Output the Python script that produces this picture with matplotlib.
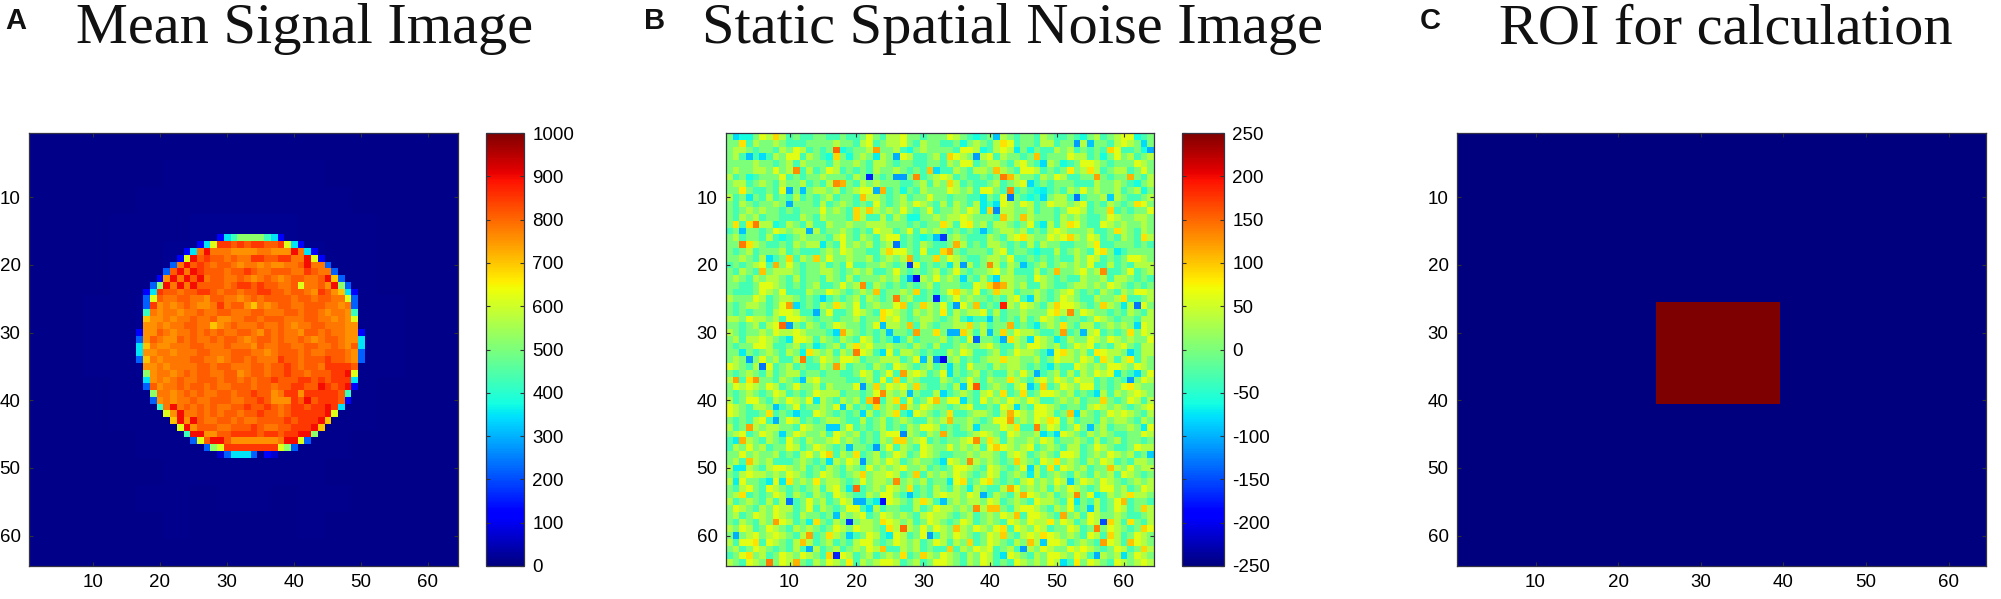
import numpy as np
import matplotlib
matplotlib.use("Agg")
import matplotlib.pyplot as plt

WIDTH = 2001
HEIGHT = 599

titles = ["Mean Signal Image", "Static Spatial Noise Image", "ROI for calculation"]
panel_letters = ["A", "B", "C"]
axis_ticks = [10, 20, 30, 40, 50, 60]
signal_ticks = [0, 100, 200, 300, 400, 500, 600, 700, 800, 900, 1000]
noise_ticks = [-250, -200, -150, -100, -50, 0, 50, 100, 150, 200, 250]

# panel A levels
signal_levels = {".": 18, "0": 70, "1": 120, "2": 220, "3": 350, "4": 420, "5": 520, "6": 620,
                 "7": 700, "a": 755, "o": 785, "p": 810, "r": 850, "R": 895, "D": 950}

# faint glow of panel A around the disc, one value per 4x4 block
signal_background = [
    [10, 10, 10, 10, 10, 10, 10, 10, 10, 10, 10, 10, 10, 10, 10, 10],
    [10, 10, 10, 10, 10, 13, 13, 13, 13, 13, 13, 10, 10, 10, 10, 10],
    [10, 10, 10, 10, 13, 13, 15, 15, 15, 15, 13, 13, 10, 10, 10, 10],
    [10, 10, 10, 13, 13, 15, 17, 17, 17, 17, 15, 13, 13, 10, 10, 10],
    [10, 10, 10, 13, 15, 17, 17, 17, 17, 17, 17, 15, 13, 10, 10, 10],
    [10, 10, 10, 13, 15, 17, 17, 17, 17, 17, 17, 15, 13, 10, 10, 10],
    [10, 10, 13, 15, 17, 17, 17, 17, 17, 17, 17, 17, 15, 13, 10, 10],
    [10, 10, 13, 15, 17, 17, 17, 17, 17, 17, 17, 17, 15, 13, 10, 10],
    [10, 10, 13, 15, 17, 17, 17, 17, 17, 17, 17, 17, 15, 13, 10, 10],
    [10, 10, 10, 13, 15, 17, 17, 17, 17, 17, 17, 15, 13, 10, 10, 10],
    [10, 10, 10, 13, 13, 15, 17, 17, 17, 17, 15, 13, 13, 10, 10, 10],
    [10, 10, 10, 10, 13, 13, 15, 15, 15, 15, 13, 13, 10, 10, 10, 10],
    [10, 10, 10, 10, 10, 13, 13, 13, 13, 13, 13, 10, 10, 10, 10, 10],
    [10, 10, 10, 10, 13, 13, 10, 13, 13, 10, 13, 13, 10, 10, 10, 10],
    [10, 10, 10, 10, 10, 13, 10, 10, 10, 10, 13, 10, 10, 10, 10, 10],
    [10, 10, 10, 10, 10, 10, 10, 10, 10, 10, 10, 10, 10, 10, 10, 10],
]

# left and right rim of the disc: row -> (first column, levels)
signal_left_rim = {
    16: (29, "1345555431"), 17: (26, "136"), 18: (24, "13oR"), 19: (23, "16R"), 20: (22, "2o"),
    21: (21, "2p"), 22: (20, "1a"), 23: (19, "25"), 24: (18, "13"), 25: (18, "26"), 26: (18, "2"),
    27: (18, "4"), 28: (18, "7"), 29: (18, "a"), 30: (17, "1a"), 31: (17, "2a"), 32: (17, "37"),
    33: (17, "3a"), 34: (17, "27"), 35: (18, "a"), 36: (18, "5"), 37: (18, "3"), 38: (18, "2"),
    39: (19, "5"), 40: (19, "2"), 41: (20, "4"), 42: (21, "6"), 43: (22, "7"), 44: (23, "6"),
    45: (24, "4"), 46: (25, "26"), 47: (27, "256"), 48: (29, "023332 10"),
}
signal_right_rim = {
    17: (39, "631"), 18: (40, "Ro31"), 19: (42, "R61"), 20: (44, "o2"), 21: (45, "o2"), 22: (46, "72"),
    23: (47, "52"), 24: (48, "31"), 25: (48, "62"), 26: (49, "2"), 27: (49, "4"), 28: (49, "6"),
    29: (49, "a"), 30: (49, "a1"), 31: (49, "a3"), 32: (49, "p3"), 33: (49, "a2"), 34: (49, "a2"),
    35: (49, "p"), 36: (49, "6"), 37: (49, "3"), 38: (49, "1"), 39: (48, "4"), 40: (48, "1"),
    41: (47, "3"), 42: (46, "6"), 43: (45, "7"), 44: (44, "7"), 45: (43, "5"), 46: (41, "62"),
    47: (38, "652"),
}

# inside of the disc, columns 18 to 49, rows 17 to 47
signal_inside = [
    "ppppppppppprrprprrpprrrprrpppppp",
    "oooooooooooooaaaaooaaaaaoppppppp",
    "ppppppppprppopoorrpprroopprppppp",
    "pppppoRprpoppoaooaoaaoopRoorpppp",
    "pppprRoRrpppopprpoopppoorpoRoppp",
    "ppppRoRpRoppoopoaopoaoppoopRappp",
    "pprRoRoRppppoprrprppoop6oopaRopp",
    "pprppopprrpoppopprrppoppoarpa7rp",
    "prpooppooappooaopoppppoppoppoopr",
    "rraoaopoaaoroppa7oaoppoopppooaop",
    "roaooaoopooppoooppoooppoppoaooap",
    "paaoaoopoopaaooppopppoooppooaoaa",
    "oaoaooppoo7aopooopoopoaooppoooao",
    "aapoaoopopopooppoapopooappopooao",
    "apoaapopoopoppoaoppopoopoaoppoaa",
    "aoaaoooppooopoooapooppooppoopoaa",
    "aaooaoooppooopppooaopppopoopppoa",
    "aoaooooppooaoppopooorppoppprppoR",
    "raoaooooppoppoooppopprpopporrrrp",
    "aaooaopoppooppaoppopprppoppprrRr",
    "oaoaopoopppoppopopprppprrprprrrr",
    "ppaoopoppopoopppoppopprrppRrprRr",
    "ppooaopopooppopprppaorrarrrrrprp",
    "rpaoaoopoopppoopprpaaarpRprrrprp",
    "ppRoRopopopoopprpprpoprrprrRrRrp",
    "pppRaRoopopoppopprppoprrrrrRoRrp",
    "pppppRaRpooppopoopppprprrrRRDooo",
    "ppppppRapppooppprpoopprrrRRDoppp",
    "pppppppRRaapprrrrprrprrRRRpppppp",
    "ppppppppppRRpaaaaaaaoRRRpppppppp",
    "ppppppppppprrrrrrrrrrppppppppppp",
]

# panel B levels and a rough cell by cell reading of the mottled background
noise_levels = {"c": -62, "t": -35, "g": 0, "l": 35, "y": 62}
noise_base = [
    "gtccgylgltgttggttgttgygtllyggtgggylgtctgllgtggtlgttgtcgltglyyctg",
    "gggtlgglgtttgggglggtlytgllygtlggttgcglgtlgytggtlltggglgggtlylgtg",
    "gllgtggtlgyltgtgcttgglgggltcglggggtyylctlylggcgttlgltgtgtcyttgcg",
    "gltctgtlgyytlgtclgcglgylgcylttgltlylgtlytlggtgytgggylltgcgygltgl",
    "gggglggtgltlgggtlgglgtllgtggttggtlgyytgllgtlygttlgctgyylgtgggylg",
    "glggllgyglgtltgyltgtgtlgglgtgtgcttlgtllgllgtyyltgtggglgltglltgyg",
    "ltgctgggytgtgglgggtlgtgtgtcgytglyltgttgtggtlggtlgylttggtgtggtgtl",
    "glltglgtlggltgtlgcgtlglgggttgltlgyltgttgltglyytgtgggtttlgglgtcgl",
    "ggygttgtylgtgllgltglyygltgcgtlgggylgltyygtltgtcttgtlgyglggltglcg",
    "ltgcgtltgtltgtgltggtgllgtgltggyggtggtttgtyggtctgglltgtgglglgttgl",
    "gtlgtgglgtgggtltglgtgtygtglgylgtltlgtlgtlylgyltgyllglytgtlgtgyyg",
    "gtglglggtgtgggyglgtglylglgygtgytgglgyltgtllggltggtgyyltggltgtggy",
    "gtlgltggtttlgtlgggtylttltlgccgglgllylgggtylgtlgggtlglgttgylggllg",
    "gltgtllctlgtlttlgglgglllgggtgtgggltylgltllgtgytgltlgygttylglgglg",
    "tgtggtgylgllgltgglgtgtylltgytlglgtgtgtltgllgltgtlylggglttgglgtlg",
    "gltggtltctglgggtlygtlgtlyytgtctytglgtttlgtlyylggylyllgyltgtlgtyl",
    "ggyllgttgtlglltgtyglgltglttgtlgttglltgtllgtgtltlggttgglgttgggtgt",
    "gtgltgggltgtttglgylggttlgyygtyttllgtgggtlytggtcttltglgtylgctgggg",
    "gglgtlgtggtlgtgygglggltglglltggtgylgttgllgyttgtgtgttlgyltgtgyylg",
    "tgtglyttgygtggltgtyttgglgtgyytgtgtlgltglltlggtgltglglgyttltgtlll",
    "gtlgtgglllgtggllgtglglttgygtgtgltgygtgglygltttltgtgglyglgttgytgl",
    "glgtlgllgtltggtlgtltggglgltgllgyglglgtltgllggtylgtgttlggltllgtgt",
    "ggttgyylgtgtglttgyglgtlgtgtgtgltgggttylgyylglttlgttgllglgylgtgtg",
    "gtttgylgytttlggylgtglgltgglgltgtgyylgytgllltgglgtglygtgtlgtlgyyl",
    "lgggyltgllgtgtgtgtgltlgtgyglttgltgyglggtgtlyttlgtgylgttlgglgttgl",
    "gtgllgtgyygtgtlgtlgytglggyltgllgytyyggtgttlgylgtlgyylgtgglgglyyg",
    "gtgtggtlyylttggyttgylgtgylgtlglgttlgllytltgglgggyyltgylggtgtlgtl",
    "llgyllgltyylgtggtggltggllygtgllgtgltgttggtgtltgylgtggtgylgtggtll",
    "ggtgltlyylgtlgtgylggtgytllgltlgtgglllgltgggtgtlglglgtlltglglgtyl",
    "lgtgglgyllylgggtgllgtgtglggtlgglgtggltlgglgyllgttgltgtlytgtgtgyl",
    "gltllylgtlyyltlgtlgtyltgtytltgggltgtylggtlglgtylggtlggylgylglggy",
    "gtggyylttgltgltgltlllygglggtlgtlttglgglygttlgyylgltgylytgtlygtll",
    "ggtgtglgtlgyllgltlgyyltgytllgtgttlgylttgltgyllgtlyglgltlyllggtll",
    "glgtgyglttlgtgylgyyltggllltgyglttgltgtgllyllggltgyllgyltgltlgtlg",
    "ylgtlgytgltgttlgtltggtlgtylgtgltglgtyggtlgllgtgtlgttylglgyylgylg",
    "gtglgtltglltggtggttgyltgytglyltgytgtgltgttlgygltgltltlgylylgtlgy",
    "lgtglggtlgtglyggggttgltytytlgtttlgtgygtlggllgtlygylgylltgtgttgyl",
    "gylylgyltgyggltlgggylgtgylyglgttgtlgyltglgtlyytgtgylgyytgtgyglgg",
    "gtglgtgyltgtgyllltggtgyylgllgttlgtglgtlyggtgltgyylgltgtlltlglylg",
    "ltgyygtlgylgyglgtlgltgttlgtytgylgyytgtyglgylgylttglgltgglgtgyltl",
    "ylgtllgltgytgglgylltgtgglgtlgylggtglyttgtyllgtyylgtggtlylglgtgly",
    "ylgttgltgtgttylgtgtggltglgtgylgtgyttgllgtlyylgyyltgtglgtgylylgtl",
    "gtgtlytlgyltgtgllgttltgltglgttlgltgglgtgyylglgylgytltggtlgllgtlg",
    "ltgglgllggtylggltgytgtgltgtlgyyltgtgltgggylgttlgyltgyglgltgglgly",
    "glytgylgtgylggltylgltgtlyytlgtlglgttglylgtylgglgttylgtlglgttggyl",
    "tgllgtlgtygtlgglyglgtgtlgtgglytgtgglylgyltlgglgyltgglgtltgltggtg",
    "tlgygltggyltgylgtglggtlgytlgtylggyglgltygylglytglgtlltgylgttgyll",
    "ggyglggltgtlygyltlgytgltgyltgylgttgglgllgtlyltglgtyyltglgylgltgt",
    "gltglgltttglgtgglgyltglgyltglggtgylgtlglgtgllgtylgglgtlgyltgtllg",
    "ltllgtlyylgltgtlgtlgtyglglyggltgtgyylgtylgtgygltgtylgltggtlgygll",
    "gtlyllglgylgtgylgtgllgllyltggtlglgylgtgyltglgyltglgtlgtlgltylgtg",
    "llyggtgyllglgtgllgtgygllgtglgltgglyltgylgtgtlyglgyltgylgylgtglgl",
    "gtlygtylgtgtgltlygtgtglgylgytgtlgtlgglgttlgyglgltlgylgtgyygltgyl",
    "glgtgtgyltlgtlgtylgttlgyygtgtgtlyllgylgtlgtlgylgltgltgyltlgltllg",
    "ltglgtltlgtgygltgyltgtlgylgtlgltgglgllgyltglgtyllgtylgtltgyltggt",
    "gylgtlgylltgytlgtgyytgltggttltgyllglgtllggtlyylgtlgytgtltgyltgyl",
    "gltgylgylgtlggtgylglytgylglgtlyllgtgltglgylgtyylgtlgltylgglgttgl",
    "gtlgtlgyyltgltgtlgtgllgtylgltgylgtgyltglgtylgylltgyltgyltgltlgtl",
    "lgyltgylgtlglgtgylgyllgtgltlgygylgtlgylgyltylgyltggyltglgylgtgly",
    "gtglyglylgtlgtgylgltgyltgyltgyltlgylgtgyltgtlylgylglgtyltgltgylg",
    "ltyygtylgtlgltgltgtlyygtgylgltgyltlgytgylgtlgylgyyltglgtlyltgylg",
    "gltgylgtgtltgltgltglgylgttlgltgttgtlgylgtgltglgylggyltlgtgyltgtl",
    "tgylgltgylgylgtlgyltgltglgltgylgylgtlgyltgylgtlgyylgyltglgltgylg",
    "lgtylglgyllgtlgylgytlglyyltgltgyylgtlgyltgtylglgylgtlgylgtylglyl",
]

# cells that stand out from the background in panel B: (row, column, value)
noise_spots = [
    (1, 2, -80), (1, 8, 90), (1, 41, -90), (2, 3, 85), (2, 42, 85), (2, 53, -110), (2, 55, -90), (2, 63, -80),
    (3, 17, 150), (3, 18, -60), (3, 23, 120), (3, 44, -70), (3, 58, 90), (3, 64, -100),
    (4, 4, -90), (4, 6, -80), (4, 17, 90), (4, 23, -70), (4, 26, -100), (4, 34, 90), (4, 38, -110), (4, 47, 100),
    (5, 48, -80), (6, 11, 130), (6, 31, 100), (6, 32, -80), (6, 41, 100), (6, 52, 80), (6, 55, 85),
    (7, 22, -170), (7, 26, -110), (7, 27, -110), (7, 29, 130), (7, 42, 140), (7, 43, 105), (7, 56, 120), (7, 61, 110),
    (8, 17, 130), (8, 18, 110), (8, 34, 90), (8, 46, -80),
    (9, 3, 80), (9, 10, -100), (9, 12, -90), (9, 23, -100), (9, 24, 110), (9, 43, 130), (9, 48, -70),
    (10, 4, -70), (10, 21, 100), (10, 39, -70), (10, 43, -130), (10, 48, -80), (10, 53, -130), (10, 58, -85),
    (11, 10, -100), (11, 39, -70), (11, 41, -75), (11, 62, 85),
    (12, 20, 90), (12, 22, 95), (12, 39, -70), (12, 40, 90), (12, 41, -120), (12, 58, 90),
    (13, 20, 90), (13, 42, 100), (13, 45, 100),
    (14, 2, 85), (14, 4, 85), (14, 5, 140), (14, 33, 85), (14, 37, 80), (14, 48, -70), (14, 52, 85),
    (15, 3, -90), (15, 13, -100), (15, 39, -90), (15, 59, 85),
    (16, 32, -90), (16, 33, -160), (16, 45, 85), (16, 52, 90), (16, 63, 85),
    (17, 3, 140), (17, 4, 85), (17, 15, -70), (17, 26, -130), (17, 35, 110), (17, 56, 80),
    (18, 25, 90), (18, 33, 90), (18, 34, 120), (18, 57, 85), (18, 59, -70),
    (19, 7, -75), (19, 10, 90), (19, 14, 95), (19, 28, 110), (19, 32, 90),
    (20, 8, 110), (20, 28, -160), (20, 34, -70), (20, 36, -110), (20, 40, 130), (20, 45, -90),
    (21, 6, 100), (21, 50, 105), (21, 57, 130),
    (22, 28, -100), (22, 29, -200), (22, 36, -80), (22, 41, -80),
    (23, 21, 130), (23, 40, 90), (23, 41, 130), (23, 42, 110),
    (24, 23, 100), (24, 29, 90), (24, 35, 90), (24, 41, 90),
    (25, 15, -80), (25, 26, 140), (25, 32, -170), (25, 46, -80), (25, 60, 85),
    (26, 10, 120), (26, 11, -80), (26, 17, 85), (26, 27, 95), (26, 30, 90), (26, 35, -110), (26, 38, 100),
    (26, 42, 190), (26, 50, 90), (26, 57, 90), (26, 60, -70), (26, 62, -130),
    (27, 14, -100), (27, 24, 85), (27, 33, 80), (27, 50, 85), (27, 52, 130),
    (28, 24, 85), (28, 37, -70), (28, 40, -85),
    (29, 9, 150), (29, 10, -110), (29, 24, -90), (29, 28, 100), (29, 37, 90), (29, 43, 110), (29, 47, -70),
    (29, 51, 85), (29, 62, -80),
    (30, 17, -80), (30, 18, 110), (30, 25, -90), (30, 29, 120), (30, 32, 85), (30, 34, -100), (30, 35, -100),
    (30, 36, 90), (30, 40, -90), (30, 42, 90), (30, 51, 120), (30, 54, -95), (30, 61, 85),
    (31, 10, -70), (31, 26, -85), (31, 38, -140), (31, 42, -100), (31, 43, 85), (31, 46, -75), (31, 50, -70),
    (32, 14, -70), (32, 20, 85),
    (33, 3, -70), (33, 12, -65), (33, 13, 85), (33, 20, 140), (33, 24, -75), (33, 49, -85), (33, 51, 85),
    (33, 56, 80), (33, 61, -80),
    (34, 4, -110), (34, 12, 140), (34, 30, -90), (34, 32, -120), (34, 33, -200), (34, 42, 85), (34, 57, 85), (34, 61, 80),
    (35, 6, -130), (35, 17, 120), (35, 34, -75), (35, 49, -70),
    (36, 27, 120), (36, 34, -75), (36, 47, -100), (36, 59, -70), (36, 62, -80),
    (37, 2, 120), (37, 4, 85), (37, 5, 125), (37, 12, -90), (37, 26, 90), (37, 43, 85), (37, 61, -110),
    (38, 21, -110), (38, 23, 90), (38, 29, 90), (38, 36, -85), (38, 38, 160), (38, 46, -85), (38, 48, 95), (38, 61, 80),
    (39, 24, 130), (39, 28, -90), (39, 33, -80), (39, 42, 85), (39, 45, 85), (39, 56, -75),
    (40, 14, -70), (40, 22, 100), (40, 23, 150), (40, 26, 85), (40, 32, 100), (40, 36, -75), (40, 57, 90),
    (41, 8, -90), (41, 18, -85), (41, 23, 90), (41, 27, 110), (41, 44, -75),
    (42, 7, 85), (42, 11, -80), (42, 21, -80), (42, 26, 85), (42, 28, -70), (42, 34, 85), (42, 43, 110),
    (42, 52, 100), (42, 53, -75),
    (43, 8, -100), (43, 34, 105), (43, 43, 120), (43, 49, 85),
    (44, 4, 120), (44, 16, -85), (44, 17, -85), (44, 38, -75), (44, 44, 85), (44, 47, 135), (44, 55, -90), (44, 63, -70),
    (45, 9, -80), (45, 27, -120), (45, 33, 115), (45, 48, -75), (45, 50, -80),
    (46, 2, -70), (46, 3, 110), (46, 26, 90), (46, 27, 90), (46, 38, 130), (46, 40, 85),
    (47, 19, -90), (47, 23, -110), (47, 41, 95),
    (48, 16, 90), (48, 20, 85), (48, 64, -85),
    (49, 4, 100), (49, 16, -75), (49, 21, -110), (49, 33, -75), (49, 37, 130), (49, 44, 95), (49, 50, 85),
    (50, 2, -70), (50, 3, -70), (50, 46, -80), (50, 49, 85), (50, 58, 100),
    (51, 21, 90), (51, 29, 95), (51, 46, -70),
    (52, 2, -70), (52, 7, -70), (52, 9, -70), (52, 10, 85), (52, 14, 80), (52, 26, 130), (52, 34, -70), (52, 36, 85),
    (52, 40, 85), (52, 52, -85),
    (53, 19, -70), (53, 20, 150), (53, 28, 85), (53, 37, -65), (53, 43, 110),
    (54, 3, 85), (54, 28, -90), (54, 39, -100), (54, 45, 110), (54, 53, 130), (54, 56, -65), (54, 61, 85),
    (55, 10, -130), (55, 20, -100), (55, 21, -100), (55, 23, -70), (55, 24, -180), (55, 30, 85), (55, 33, -90),
    (55, 53, -70), (55, 60, 105),
    (56, 22, -75), (56, 38, 130), (56, 40, 100), (56, 41, 100), (56, 55, -85), (56, 63, 90),
    (57, 17, -90), (57, 44, 100), (57, 51, 115),
    (58, 8, 120), (58, 13, -65), (58, 14, 85), (58, 19, -160), (58, 24, 85), (58, 49, 80), (58, 57, -150),
    (58, 58, 90), (58, 61, 85),
    (59, 25, 85), (59, 27, 150), (59, 35, 100), (59, 42, 85), (59, 56, 135), (59, 63, 90),
    (60, 2, -100), (60, 13, 120), (60, 16, 85), (60, 19, -85), (60, 25, -70), (60, 31, -110), (60, 42, 95),
    (60, 48, 85), (60, 58, 90),
    (61, 5, 85), (61, 12, 100), (61, 37, 90), (61, 46, 100), (61, 48, -85), (61, 57, 120), (61, 61, 100),
    (62, 13, -100), (62, 24, 100), (62, 34, 95), (62, 40, 60), (62, 45, -110), (62, 54, 70), (62, 63, 90),
    (63, 4, 85), (63, 16, 90), (63, 17, -170), (63, 27, 85), (63, 30, 90), (63, 42, -75), (63, 56, -100), (63, 60, -75),
    (64, 7, 140), (64, 11, 110), (64, 19, 80), (64, 51, -75), (64, 53, 80),
]

# panel C: first and last row and column of the ROI
roi_rows = (26, 40)
roi_cols = (25, 39)


def build_signal():
    grid = np.kron(np.array(signal_background, dtype=float), np.ones((4, 4)))
    for row, (first, levels) in signal_left_rim.items():
        inside_from = first + len(levels)
        if row in signal_right_rim:
            right_first, right_levels = signal_right_rim[row]
            text = signal_inside[row - 17]
            for col in range(inside_from, right_first):
                grid[row - 1, col - 1] = signal_levels[text[col - 18]]
            for i, ch in enumerate(right_levels):
                grid[row - 1, right_first + i - 1] = signal_levels[ch]
        for i, ch in enumerate(levels):
            if ch != " ":
                grid[row - 1, first + i - 1] = signal_levels[ch]
    return grid


def build_noise():
    grid = np.zeros((64, 64))
    for r, text in enumerate(noise_base):
        text = text.ljust(64, "g")[:64]
        grid[r] = [noise_levels[ch] for ch in text]
    for row, col, value in noise_spots:
        grid[row - 1, col - 1] = value
    return grid


def build_roi():
    grid = np.zeros((64, 64))
    grid[roi_rows[0] - 1:roi_rows[1], roi_cols[0] - 1:roi_cols[1]] = 1
    return grid


def axes_px(fig, left, top, right, bottom):
    return fig.add_axes([left / WIDTH, 1 - bottom / HEIGHT, (right - left) / WIDTH, (bottom - top) / HEIGHT])


def draw_image(ax, grid, vmin, vmax):
    im = ax.imshow(grid, cmap=plt.get_cmap("jet", 256), vmin=vmin, vmax=vmax, aspect="auto",
                   interpolation="nearest", extent=(0.5, 64.5, 64.5, 0.5))
    ax.set_xticks(axis_ticks)
    ax.set_yticks(axis_ticks)
    ax.tick_params(direction="in", length=3, width=0.8, top=True, right=True, labelsize=13.5,
                   color="#333333", pad=6)
    for spine in ax.spines.values():
        spine.set_linewidth(0.9)
        spine.set_color("#333344")
    return im


def draw_colorbar(fig, im, box, ticks):
    cax = axes_px(fig, *box)
    bar = fig.colorbar(im, cax=cax)
    bar.set_ticks(ticks)
    bar.set_ticklabels([str(t) for t in ticks])
    cax.tick_params(direction="in", length=3, width=0.8, left=True, right=True, labelsize=13.5,
                    color="#333333", pad=6)
    bar.outline.set_linewidth(0.9)
    bar.outline.set_edgecolor("#333344")


def main():
    plt.rcParams["font.family"] = ["Liberation Sans", "DejaVu Sans"]
    fig = plt.figure(figsize=(WIDTH / 100, HEIGHT / 100), dpi=100)

    ax_a = axes_px(fig, 29, 133, 458, 566)
    im_a = draw_image(ax_a, build_signal(), 0, 1000)
    draw_colorbar(fig, im_a, (486, 133, 524, 566), signal_ticks)

    ax_b = axes_px(fig, 726, 133, 1154, 566)
    im_b = draw_image(ax_b, build_noise(), -250, 250)
    draw_colorbar(fig, im_b, (1182, 133, 1224, 566), noise_ticks)

    ax_c = axes_px(fig, 1457, 133, 1986, 566)
    draw_image(ax_c, build_roi(), 0, 1)

    title_x = [76, 702, 1499]
    letter_x = [5, 644, 1420]
    for i in range(3):
        fig.text(title_x[i] / WIDTH, 1 - 43 / HEIGHT, titles[i], family="Liberation Serif",
                 fontsize=42, color="#111111", va="baseline", ha="left")
        fig.text(letter_x[i] / WIDTH, 1 - 29 / HEIGHT, panel_letters[i], fontsize=21,
                 fontweight="bold", color="#111111", va="baseline", ha="left")

    fig.savefig("out.png", dpi=100)


if __name__ == "__main__":
    main()
